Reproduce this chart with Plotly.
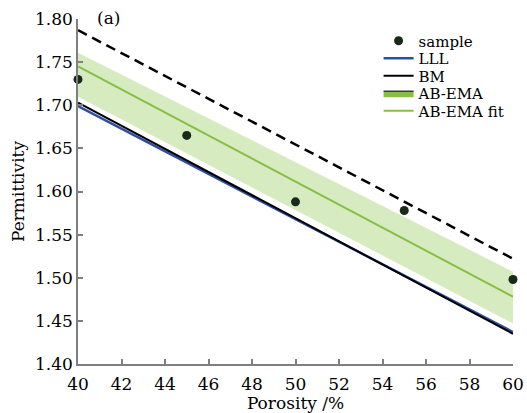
import plotly.graph_objects as go

# Porosity (%) and permittivity data
porosity = [40, 45, 50, 55, 60]
sample_eps = [1.730, 1.665, 1.588, 1.578, 1.498]

model_x = [40, 60]
upper_bound = [1.787, 1.522]      # dashed bound
lll_eps = [1.699, 1.437]
bm_eps = [1.703, 1.435]
abema_fit = [1.745, 1.478]
abema_upper = [1.761, 1.507]
abema_lower = [1.710, 1.447]

FONT = "DejaVu Serif"
GREEN = "#86bf45"
BAND = "rgba(200,228,170,0.75)"
AXIS = "#7f7f7f"

# plot-area geometry (pixels) used to place the legend rows
PLOT_TOP, PLOT_BOTTOM = 19, 364


def paper_y(py):
    return (PLOT_BOTTOM - py) / (PLOT_BOTTOM - PLOT_TOP)


fig = go.Figure()

# AB-EMA uncertainty band
fig.add_trace(go.Scatter(x=model_x, y=abema_lower, mode="lines",
                         line=dict(width=0), showlegend=False, hoverinfo="skip"))
fig.add_trace(go.Scatter(x=model_x, y=abema_upper, mode="lines", fill="tonexty",
                         fillcolor=BAND, line=dict(width=0), showlegend=False,
                         hoverinfo="skip"))

fig.add_trace(go.Scatter(x=model_x, y=upper_bound, mode="lines",
                         line=dict(color="black", width=2.5, dash="10px,6px"),
                         showlegend=False))
fig.add_trace(go.Scatter(x=model_x, y=lll_eps, mode="lines", name="LLL",
                         line=dict(color="#2e4ea6", width=2.5), legend="legend2"))
fig.add_trace(go.Scatter(x=model_x, y=bm_eps, mode="lines", name="BM",
                         line=dict(color="black", width=2), legend="legend3"))
fig.add_trace(go.Scatter(x=model_x, y=abema_fit, mode="lines", name="AB-EMA fit",
                         line=dict(color=GREEN, width=2), legend="legend5"))
# legend swatch for the band
fig.add_trace(go.Scatter(x=[None], y=[None], mode="lines", fill="toself",
                         fillcolor=GREEN, line=dict(color="#3a3a3a", width=1.5),
                         name="AB-EMA", legend="legend4"))
fig.add_trace(go.Scatter(x=porosity, y=sample_eps, mode="markers", name="sample",
                         marker=dict(color="#1a2a1a", size=9), cliponaxis=False,
                         legend="legend"))

fig.add_annotation(x=0.038, y=paper_y(18), xref="paper", yref="paper", text="(a)",
                   showarrow=False, xanchor="left", yanchor="middle",
                   font=dict(family=FONT, size=17, color="black"))

axis_common = dict(showline=True, linecolor=AXIS, linewidth=1.5, ticks="inside",
                   tickcolor=AXIS, ticklen=5, tickwidth=1.5, showgrid=False,
                   zeroline=False, tickfont=dict(family=FONT, size=17, color="black"),
                   mirror=False)

fig.update_xaxes(range=[40, 60], dtick=2, ticklabelstandoff=4,
                 title=dict(text="Porosity /%", standoff=2,
                            font=dict(family=FONT, size=17, color="black")),
                 **axis_common)
fig.update_yaxes(range=[1.40, 1.80], dtick=0.05, tickformat=".2f",
                 title=dict(text="Permittivity", standoff=6,
                            font=dict(family=FONT, size=17, color="black")),
                 **axis_common)

# one legend per row so the rows sit close together
row_centers = [41, 58.5, 76, 93.5, 111]
legend_names = ["legend", "legend2", "legend3", "legend4", "legend5"]
legend_layout = {}
for name, py in zip(legend_names, row_centers):
    legend_layout[name] = dict(x=0.691, y=paper_y(py), xanchor="left",
                               yanchor="middle", bgcolor="rgba(255,255,255,0)",
                               itemwidth=30, borderwidth=0,
                               font=dict(family=FONT, size=15, color="black"))

fig.update_layout(
    width=527, height=413,
    margin=dict(l=78, r=14, t=PLOT_TOP, b=413 - PLOT_BOTTOM, autoexpand=False),
    plot_bgcolor="white", paper_bgcolor="white",
    showlegend=True,
    **legend_layout,
)

fig.write_html("out.html")
